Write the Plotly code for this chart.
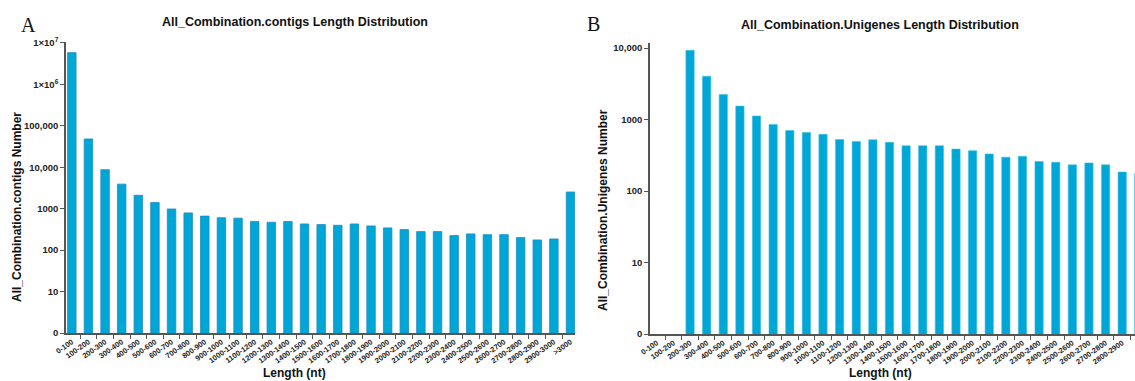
import plotly.graph_objects as go

# ---------------- data ----------------
cats_a = ["0-100", "100-200", "200-300", "300-400", "400-500", "500-600", "600-700",
          "700-800", "800-900", "900-1000", "1000-1100", "1100-1200", "1200-1300",
          "1300-1400", "1400-1500", "1500-1600", "1600-1700", "1700-1800", "1800-1900",
          "1900-2000", "2000-2100", "2100-2200", "2200-2300", "2300-2400", "2400-2500",
          "2500-2600", "2600-2700", "2700-2800", "2800-2900", "2900-3000", ">3000"]
contigs = [5800000, 48000, 8700, 3900, 2100, 1400, 980, 790, 660, 605, 590, 490, 470,
           490, 427, 412, 397, 427, 383, 343, 312, 279, 279, 224, 246, 236, 236, 200,
           176, 186, 2520]

cats_b = cats_a[:30]
unigenes = [0, 0, 9300, 4030, 2240, 1540, 1120, 850, 700, 660, 620, 525, 494, 521,
            479, 430, 430, 430, 386, 366, 330, 297, 306, 258, 253, 232, 247, 232, 184, 175]

ytick_vals_a = [1, 10, 100, 1000, 10000, 100000, 1000000, 10000000]
ytick_text_a = ["0", "10", "100", "1000", "10,000", "100,000", "1\u00d710<sup>6</sup>", "1\u00d710<sup>7</sup>"]
ytick_vals_b = [1, 10, 100, 1000, 10000]
ytick_text_b = ["0", "10", "100", "1000", "10,000"]

# ---------------- figure ----------------
W, H = 1135, 381
BAR = "#00A6D6"
AX = "#555555"
FONT = "Liberation Sans, Arial, sans-serif"


def px(x):
    return x / W


def py(y):
    return 1 - y / H


fig = go.Figure()
fig.add_trace(go.Bar(x=cats_a, y=contigs, width=0.51, marker=dict(color=BAR, line=dict(color="#1C8CC4", width=0.8)),
                     xaxis="x", yaxis="y", showlegend=False))
fig.add_trace(go.Bar(x=cats_b, y=[v if v > 0 else None for v in unigenes], width=0.5,
                     marker=dict(color=BAR, line=dict(color="#3CC2E8", width=0.6)),
                     xaxis="x2", yaxis="y2", showlegend=False))

xcommon = dict(type="category", tickson="boundaries", ticks="outside", ticklen=4, tickcolor=AX,
               showline=True, linecolor=AX, linewidth=1.5, showgrid=False, tickangle=-35,
               automargin=False,
               tickfont=dict(family=FONT, size=7.5, color="#222222", weight="bold"))
ycommon = dict(type="log", ticks="outside", ticklen=4, tickcolor=AX, showline=True, linecolor=AX,
               linewidth=1.5, showgrid=False, zeroline=False, automargin=False,
               tickfont=dict(family=FONT, size=9.5, color="#222222", weight="bold"))

fig.update_layout(
    width=W, height=H, margin=dict(l=0, r=0, t=0, b=0, pad=0),
    paper_bgcolor="white", plot_bgcolor="white", bargap=0.5,
    xaxis=dict(**xcommon, domain=[px(66), px(575)], range=[-0.35, 30.27], anchor="y",
               categoryorder="array", categoryarray=cats_a),
    yaxis=dict(**ycommon, domain=[py(333), py(42)], range=[0, 7.02], anchor="x",
               tickvals=ytick_vals_a, ticktext=ytick_text_a),
    xaxis2=dict(**xcommon, domain=[px(650), 1], range=[-0.41, 28.77], anchor="y2",
                categoryorder="array", categoryarray=cats_b),
    yaxis2=dict(**ycommon, domain=[py(334), py(43)], range=[0, 4.07], anchor="x2",
                tickvals=ytick_vals_b, ticktext=ytick_text_b),
)

ann = []
ann.append(dict(text="A", x=px(28), y=py(25), font=dict(family="Liberation Serif, Times New Roman, serif", size=20, color="#111")))
ann.append(dict(text="B", x=px(593), y=py(24), font=dict(family="Liberation Serif, Times New Roman, serif", size=20, color="#111")))
ann.append(dict(text="All_Combination.contigs Length Distribution", x=px(295), y=py(22),
                font=dict(family=FONT, size=12.5, color="#111", weight="bold")))
ann.append(dict(text="All_Combination.Unigenes Length Distribution", x=px(880), y=py(25),
                font=dict(family=FONT, size=12.5, color="#111", weight="bold")))
ann.append(dict(text="Length (nt)", x=px(294), y=py(373), font=dict(family=FONT, size=12, color="#111", weight="bold")))
ann.append(dict(text="Length (nt)", x=px(880), y=py(373), font=dict(family=FONT, size=12, color="#111", weight="bold")))
ann.append(dict(text="All_Combination.contigs Number", x=px(17), y=py(207), textangle=-90,
                font=dict(family=FONT, size=12, color="#111", weight="bold")))
ann.append(dict(text="All_Combination.Unigenes Number", x=px(603), y=py(210), textangle=-90,
                font=dict(family=FONT, size=12, color="#111", weight="bold")))
for a in ann:
    a.update(xref="paper", yref="paper", showarrow=False, xanchor="center", yanchor="middle")
fig.update_layout(annotations=ann)

fig.write_html("out.html", post_script="document.body.style.margin='0';document.body.style.padding='0';",
               config={"displayModeBar": False})
